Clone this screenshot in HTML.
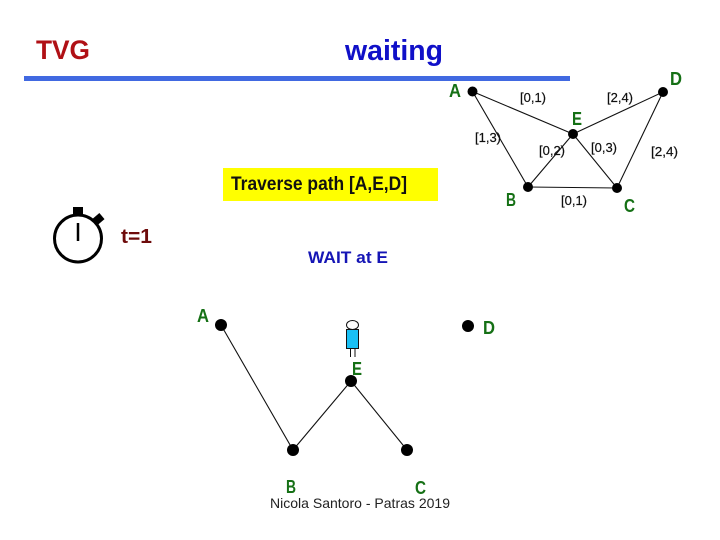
<!DOCTYPE html>
<html>
<head>
<meta charset="utf-8">
<style>
html,body{margin:0;padding:0;background:#fff;width:720px;height:540px;overflow:hidden}
svg{display:block}
text{font-family:"Liberation Sans",sans-serif}
.g{font-weight:bold;font-size:18px;fill:#157015}
.l{font-size:13px;fill:#111;stroke:#111;stroke-width:.2}
</style>
</head>
<body>
<svg width="720" height="540" viewBox="0 0 720 540">
<rect width="720" height="540" fill="#fff"/>
<text x="36" y="59" font-size="27" font-weight="bold" fill="#b01015" textLength="54" lengthAdjust="spacingAndGlyphs">TVG</text>
<text x="345" y="60" font-size="29" font-weight="bold" fill="#1010c8" textLength="98" lengthAdjust="spacingAndGlyphs">waiting</text>
<rect x="24" y="76" width="546" height="5" fill="#4169e1"/>

<!-- top graph -->
<g stroke="#111" stroke-width="1.1" fill="none">
<path d="M472.5 91.5L573 134L663 92L617 188L573 134L528 187L472.5 91.5"/>
<path d="M528 187L617 188"/>
</g>
<g fill="#000">
<circle cx="472.5" cy="91.5" r="5"/>
<circle cx="573" cy="134" r="5"/>
<circle cx="663" cy="92" r="5"/>
<circle cx="528" cy="187" r="5"/>
<circle cx="617" cy="188" r="5"/>
</g>
<text class="g" x="449" y="97" textLength="12" lengthAdjust="spacingAndGlyphs">A</text>
<text class="g" x="572" y="125" textLength="10" lengthAdjust="spacingAndGlyphs">E</text>
<text class="g" x="670" y="85" textLength="12" lengthAdjust="spacingAndGlyphs">D</text>
<text class="g" x="506" y="206" textLength="10" lengthAdjust="spacingAndGlyphs">B</text>
<text class="g" x="624" y="212" textLength="11" lengthAdjust="spacingAndGlyphs">C</text>
<text class="l" x="520" y="102" textLength="26" lengthAdjust="spacingAndGlyphs">[0,1)</text>
<text class="l" x="607" y="102" textLength="26" lengthAdjust="spacingAndGlyphs">[2,4)</text>
<text class="l" x="475" y="142" textLength="26" lengthAdjust="spacingAndGlyphs">[1,3)</text>
<text class="l" x="539" y="155" textLength="26" lengthAdjust="spacingAndGlyphs">[0,2)</text>
<text class="l" x="591" y="152" textLength="26" lengthAdjust="spacingAndGlyphs">[0,3)</text>
<text class="l" x="651" y="156" textLength="27" lengthAdjust="spacingAndGlyphs">[2,4)</text>
<text class="l" x="561" y="205" textLength="26" lengthAdjust="spacingAndGlyphs">[0,1)</text>

<!-- yellow box -->
<rect x="223" y="168" width="215" height="33" fill="#ffff00"/>
<text x="231" y="190" font-size="19" font-weight="bold" fill="#111" textLength="176" lengthAdjust="spacingAndGlyphs">Traverse path [A,E,D]</text>

<!-- stopwatch -->
<g fill="none" stroke="#000">
<circle cx="78" cy="238.5" r="23.5" stroke-width="3"/>
<path d="M78 223V241" stroke-width="2.5"/>
</g>
<rect x="73" y="207" width="10" height="9" fill="#000"/>
<rect x="94" y="215" width="9" height="8" fill="#000" transform="rotate(-40 98.5 219)"/>
<text x="121" y="243" font-size="20" font-weight="bold" fill="#6e0b0b" textLength="31" lengthAdjust="spacingAndGlyphs">t=1</text>

<text x="308" y="263" font-size="17" font-weight="bold" fill="#1515b5" textLength="80" lengthAdjust="spacingAndGlyphs">WAIT at E</text>

<!-- bottom graph -->
<g stroke="#111" stroke-width="1.1" fill="none">
<path d="M221 325L293 450L351 381L407 450"/>
</g>
<g fill="#000">
<circle cx="221" cy="325" r="6"/>
<circle cx="468" cy="326" r="6"/>
<circle cx="351" cy="381" r="6"/>
<circle cx="293" cy="450" r="6"/>
<circle cx="407" cy="450" r="6"/>
</g>
<text class="g" x="197" y="322" textLength="12" lengthAdjust="spacingAndGlyphs">A</text>
<text class="g" x="483" y="334" textLength="12" lengthAdjust="spacingAndGlyphs">D</text>
<text class="g" x="352" y="375" textLength="10" lengthAdjust="spacingAndGlyphs">E</text>
<text class="g" x="286" y="493" textLength="10" lengthAdjust="spacingAndGlyphs">B</text>
<text class="g" x="415" y="494" textLength="11" lengthAdjust="spacingAndGlyphs">C</text>

<!-- person -->
<ellipse cx="352.5" cy="325" rx="6" ry="4.5" fill="#fff" stroke="#111" stroke-width="1"/>
<rect x="346.5" y="329.5" width="12" height="19" fill="#19c0f5" stroke="#111" stroke-width="1"/>
<path d="M350.5 349V357M355 349V357" stroke="#111" stroke-width="1" fill="none"/>

<text x="270" y="508" font-size="14" fill="#222" textLength="180" lengthAdjust="spacingAndGlyphs">Nicola Santoro - Patras 2019</text>
</svg>
</body>
</html>
